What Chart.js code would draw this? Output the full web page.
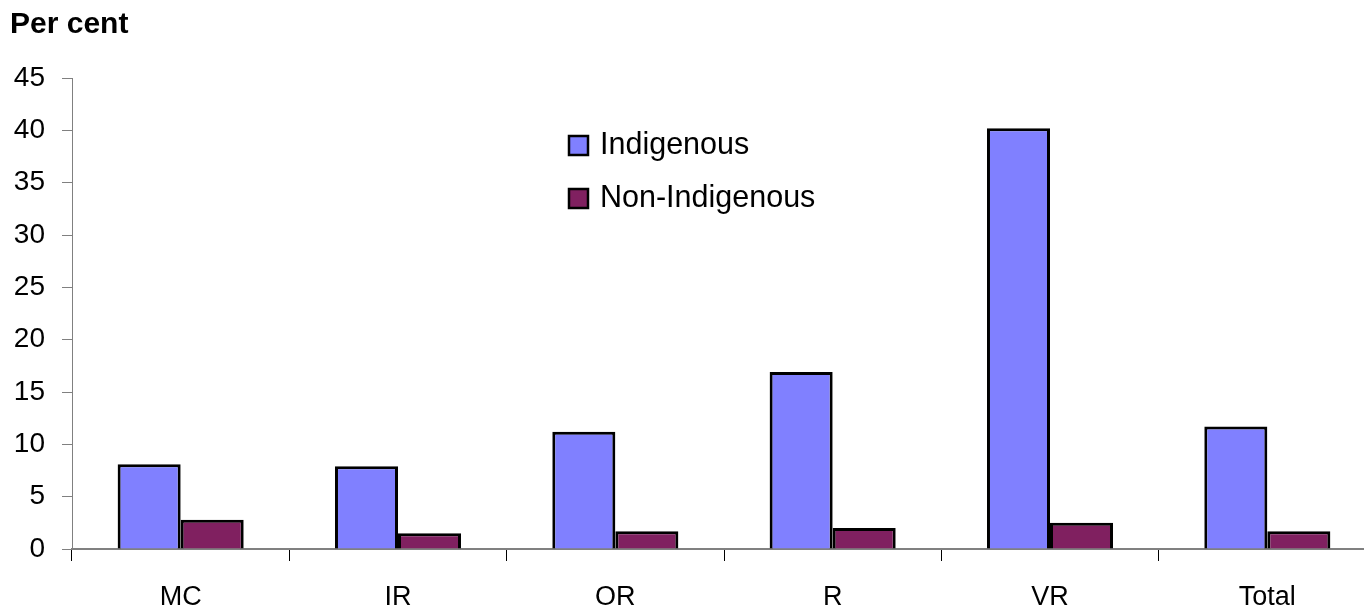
<!DOCTYPE html>
<html>
<head>
<meta charset="utf-8">
<script src="https://cdn.jsdelivr.net/npm/chart.js@4"></script>
<style>
  html, body { margin: 0; padding: 0; background: #fff; overflow: hidden; }
  #wrap { width: 1376px; height: 613px; }
</style>
</head>
<body>
<div id="wrap"><canvas id="chart"></canvas></div>
<script>
const categories = ['MC', 'IR', 'OR', 'R', 'VR', 'Total']
const indigenous = [8.1, 7.9, 11.2, 16.9, 40.2, 11.7]
const nonIndigenous = [2.8, 1.5, 1.7, 2.0, 2.5, 1.7]
const seriesNames = ['Indigenous', 'Non-Indigenous']
const yTitle = 'Per cent'

const FONT = '"Liberation Sans", Arial, sans-serif'

// legend + axis title drawn by hand, legend sits inside the plot
const extras = {
  id: 'extras',
  afterDraw (chart) {
    const ctx = chart.ctx
    const area = chart.chartArea
    ctx.save()
    ctx.fillStyle = '#000'
    ctx.font = 'bold 30px ' + FONT
    ctx.textBaseline = 'middle'
    ctx.textAlign = 'left'
    ctx.fillText(yTitle, 10, 25)

    const lx = area.left + 497
    let ly = area.top + 68
    ctx.font = '30.5px ' + FONT
    chart.data.datasets.forEach((ds) => {
      ctx.fillStyle = ds.backgroundColor
      ctx.fillRect(lx, ly - 10, 19, 19)
      ctx.lineWidth = 2.5
      ctx.strokeStyle = '#000'
      ctx.strokeRect(lx, ly - 10, 19, 19)
      ctx.fillStyle = '#000'
      ctx.fillText(ds.label, lx + 31, ly)
      ly += 53
    })
    ctx.restore()
  }
}

new Chart(document.getElementById('chart'), {
  type: 'bar',
  data: {
    labels: categories,
    datasets: [
      { label: seriesNames[0], data: indigenous, backgroundColor: '#8080FF', borderColor: '#000', borderWidth: 3 },
      { label: seriesNames[1], data: nonIndigenous, backgroundColor: '#802060', borderColor: '#000', borderWidth: 3 }
    ]
  },
  options: {
    responsive: true,
    maintainAspectRatio: false,
    animation: false,
    layout: { padding: { top: 78, right: 0, bottom: 0, left: 0 } },
    datasets: { bar: { categoryPercentage: 0.58, barPercentage: 1 } },
    plugins: {
      legend: { display: false },
      tooltip: { enabled: false }
    },
    scales: {
      x: {
        afterFit (scale) { scale.height = 64 },
        grid: { display: true, drawOnChartArea: false, drawTicks: true, tickLength: 12, color: '#000', offset: true },
        border: { color: '#808080', width: 2 },
        ticks: { color: '#000', font: { family: FONT, size: 27 }, padding: 20 }
      },
      y: {
        min: 0,
        max: 45,
        afterFit (scale) { scale.width = 72 },
        grid: { drawOnChartArea: false, drawTicks: true, tickLength: 10, color: '#808080' },
        border: { color: '#808080', width: 1 },
        ticks: { stepSize: 5, color: '#000', font: { family: FONT, size: 28 }, padding: 17 }
      }
    }
  },
  plugins: [extras]
})
</script>
</body>
</html>
